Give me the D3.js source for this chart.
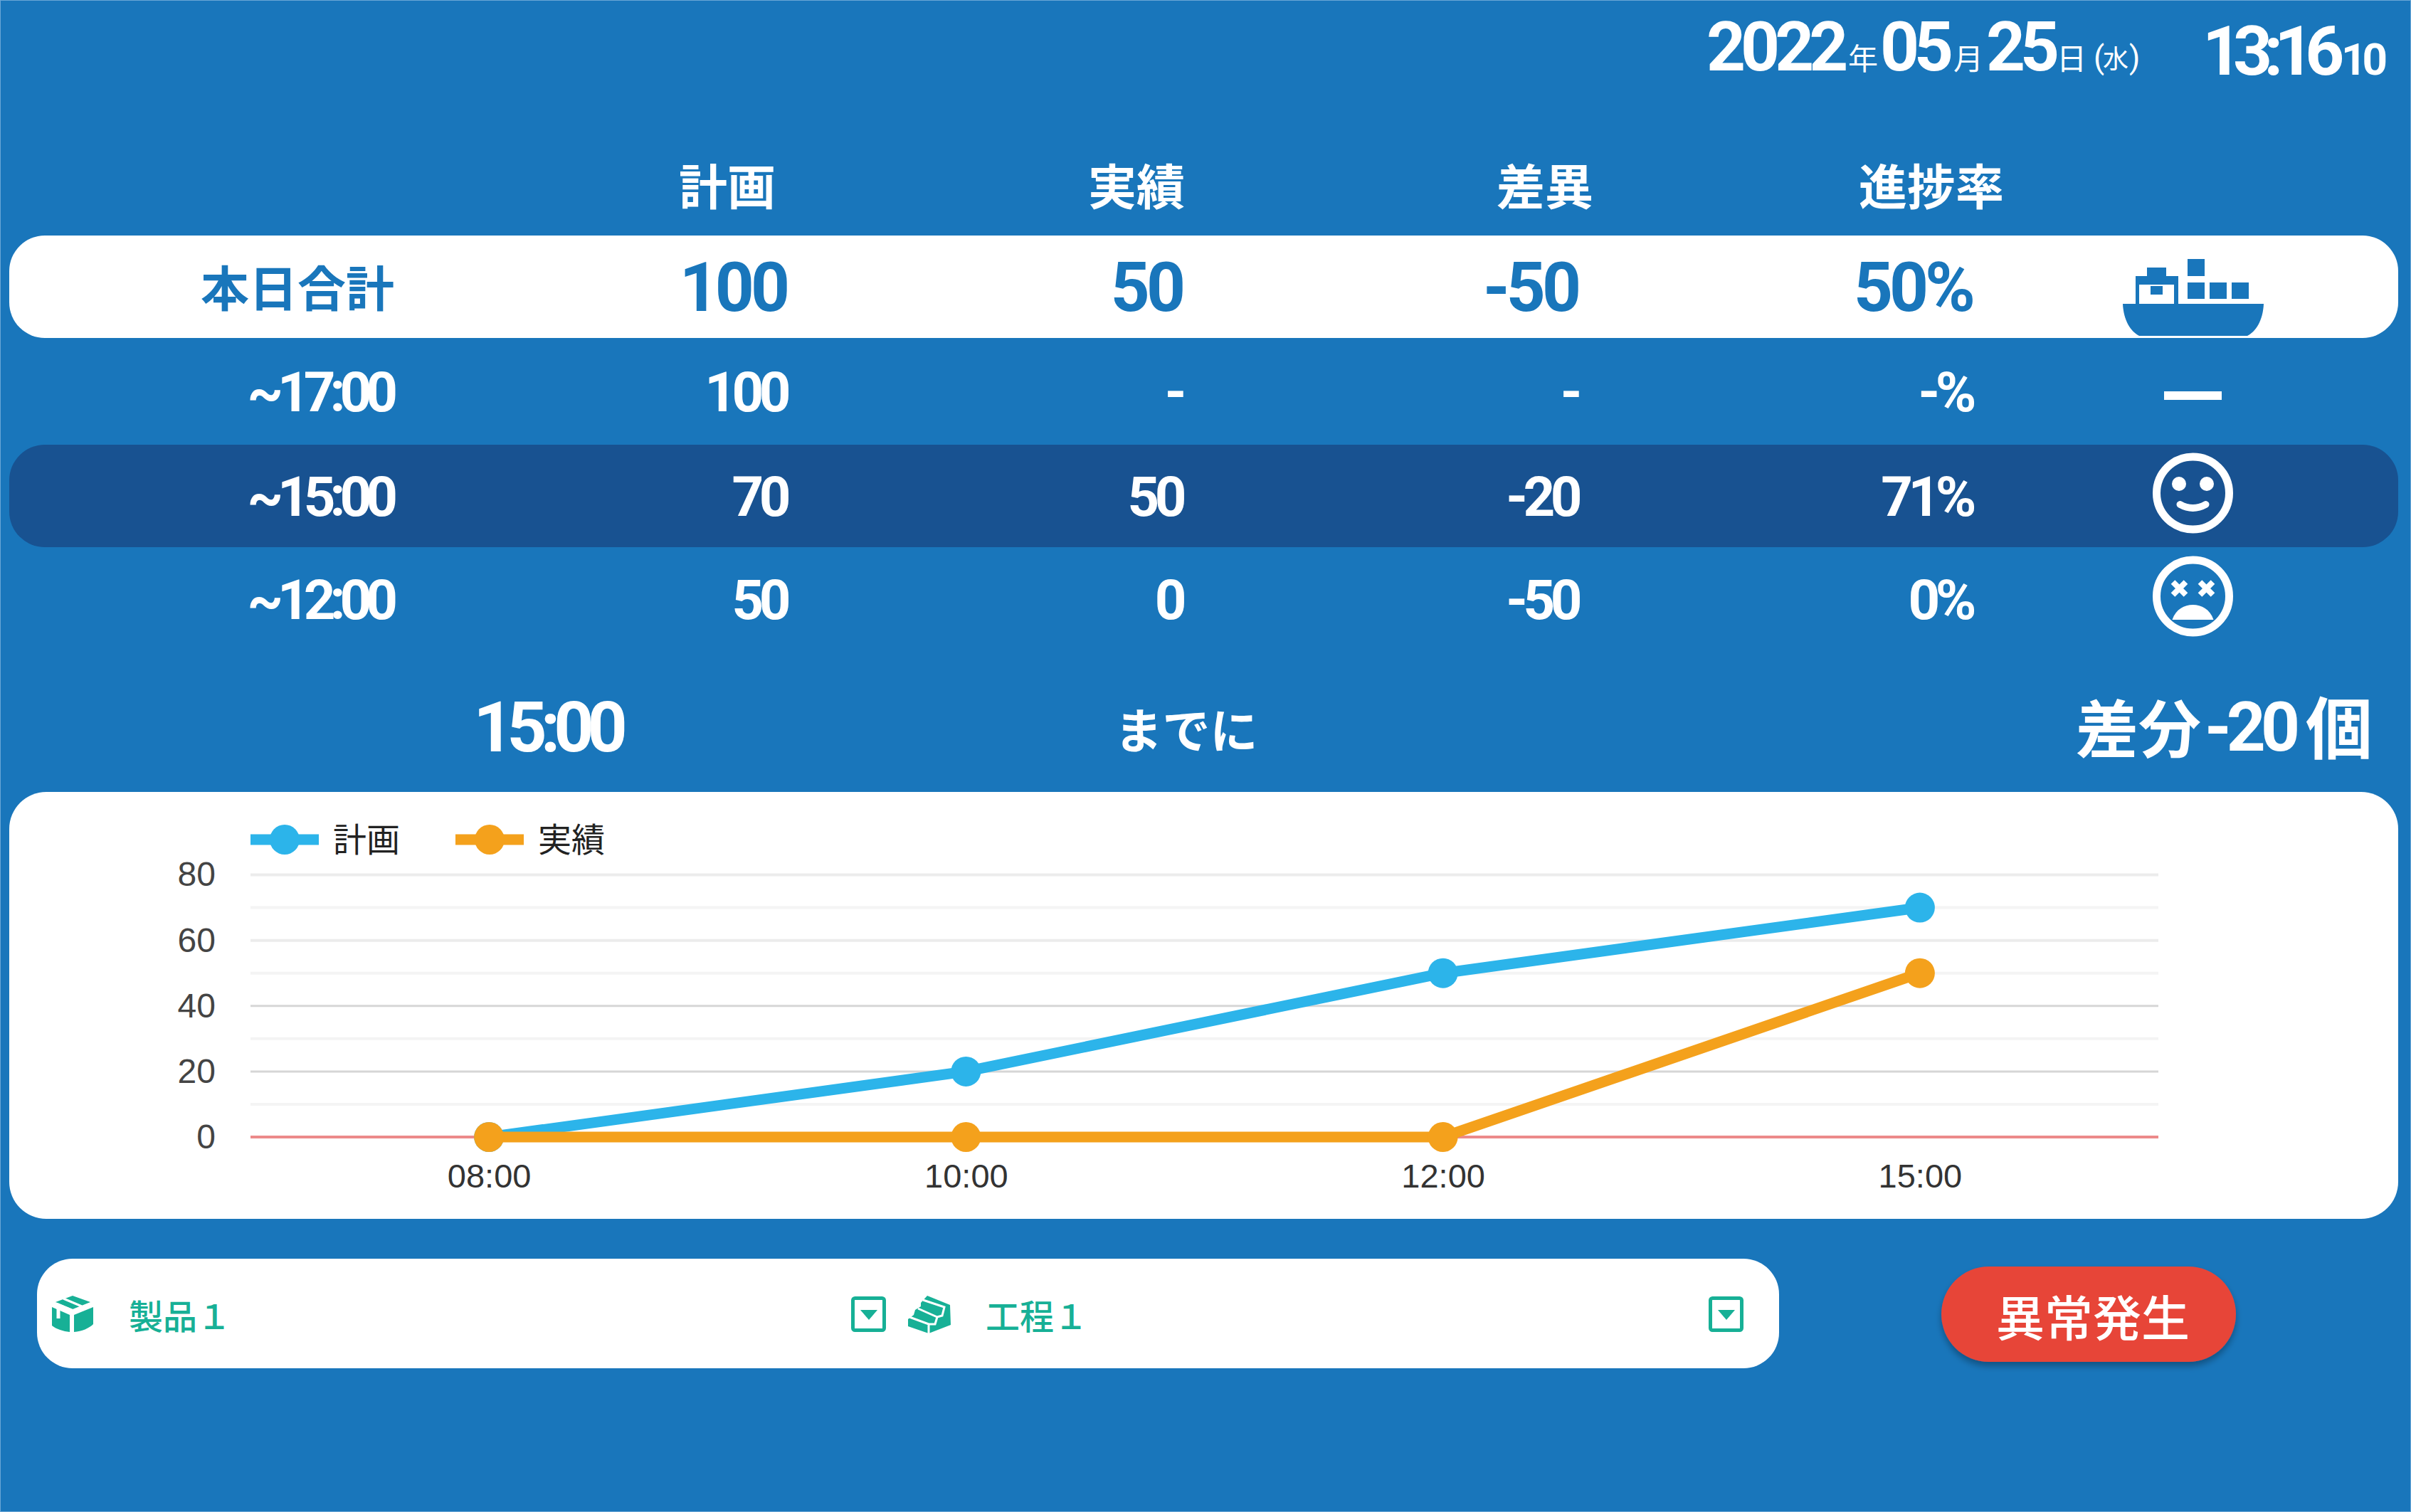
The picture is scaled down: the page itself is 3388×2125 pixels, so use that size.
<!DOCTYPE html>
<html lang="ja">
<head>
<meta charset="utf-8">
<title>進捗</title>
<script src="https://cdn.jsdelivr.net/npm/d3@7"></script>
<style>
    html, body { margin: 0; padding: 0; background: #1976bb; }
    svg { display: block; }
    text { font-family: Roboto, "Noto Sans CJK JP", sans-serif; }
    .jp { font-family: "Noto Sans CJK JP", Roboto, sans-serif; }
    .axis text { font-family: "Liberation Sans", Arial, sans-serif; }
</style>
</head>
<body>
<svg id="board" width="3388" height="2125"></svg>
<script>
// table
const headers = ["計画", "実績", "差異", "進捗率"];
const rowLabels = ["本日合計", "~17:00", "~15:00", "~12:00"];
const planCol = ["100", "100", "70", "50"];
const actualCol = ["50", "-", "50", "0"];
const diffCol = ["-50", "-", "-20", "-50"];
const rateCol = ["50%", "-%", "71%", "0%"];

// chart
const hours = ["08:00", "10:00", "12:00", "15:00"];
const planValues = [0, 20, 50, 70];
const actualValues = [0, 0, 0, 50];
const yTicks = [0, 20, 40, 60, 80];
const yMinorTicks = [10, 30, 50, 70];
const seriesNames = ["計画", "実績"];

const blue = "#1976bb", navy = "#185291", teal = "#17b096";
const planColor = "#2cb4ea", actualColor = "#f4a11c";

const svg = d3.select("#board");

const defs = svg.append("defs");
const shadow = defs.append("filter").attr("id", "btnShadow")
    .attr("x", "-10%").attr("y", "-20%").attr("width", "120%").attr("height", "150%");
shadow.append("feDropShadow").attr("dx", 0).attr("dy", 6).attr("stdDeviation", 5)
    .attr("flood-color", "#000").attr("flood-opacity", 0.3);

svg.append("rect").attr("x", 0.5).attr("y", 0.5).attr("width", 3387).attr("height", 2124)
    .attr("fill", blue).attr("stroke", "#6aa6d6").attr("stroke-width", 1);

function label(parent, str, x, y, size, opts = {}) {
    const t = parent.append("text")
        .attr("x", x).attr("y", y)
        .attr("font-size", size)
        .attr("font-weight", opts.weight || 700)
        .attr("fill", opts.fill || "#fff")
        .attr("text-anchor", opts.anchor || "start")
        .attr("dominant-baseline", opts.base || "alphabetic")
        .attr("letter-spacing", opts.ls || 0)
        .text(str);
    if (opts.jp) t.attr("class", "jp");
    return t;
}

// --- clock ---
const clock = svg.append("g");
label(clock, "2022", 2398, 99, 96, { ls: -7 });
label(clock, "年", 2597, 98, 42, { jp: true, weight: 400 });
label(clock, "05", 2642, 99, 96, { ls: -7 });
label(clock, "月", 2745, 98, 42, { jp: true, weight: 400 });
label(clock, "25", 2791, 99, 96, { ls: -7 });
label(clock, "日", 2890, 98, 42, { jp: true, weight: 400 });
label(clock, "(", 2942, 96, 44, { weight: 400 });
label(clock, "水", 2955, 96, 36, { jp: true, weight: 400 });
label(clock, ")", 2992, 96, 44, { weight: 400 });
label(clock, "13:16", 3095, 105, 96, { ls: -12 });
label(clock, "10", 3290, 105, 62, { ls: -6 });

// --- table ---
const colRight = [1105, 1661, 2217, 2771];
const headCenter = [1022, 1597, 2171, 2714];
const rowMid = [404, 551, 698, 843];
const rowBands = [{ top: 331, fill: "#fff" }, { top: 625, fill: navy }];

rowBands.forEach(b => {
    svg.append("rect")
        .attr("x", 13).attr("y", b.top)
        .attr("width", 3357).attr("height", 144)
        .attr("rx", 50).attr("ry", 50)
        .attr("fill", b.fill);
});

const table = svg.append("g");
headers.forEach((h, i) => {
    label(table, h, headCenter[i], 258, 68, { anchor: "middle", base: "central", jp: true });
});
const columns = [planCol, actualCol, diffCol, rateCol];
rowLabels.forEach((r, i) => {
    const fill = i === 0 ? blue : "#fff";
    const size = i === 0 ? 96 : 78;
    if (i === 0) {
        label(table, r, 554, rowMid[i] - 3, 68, { anchor: "end", base: "central", jp: true, fill });
    } else {
        label(table, r, 551, rowMid[i] + 27, 78, { anchor: "end", ls: -8, fill });
    }
    columns.forEach((col, j) => {
        label(table, col[i], colRight[j], rowMid[i] + (i === 0 ? 33 : 27), size,
            { anchor: "end", ls: i === 0 ? -5 : -6.5, fill });
    });
});

// --- status icons ---
const ship = svg.append("g").attr("fill", blue);
ship.append("path").attr("d", "M2983 427H3181C3180 450 3170 466 3158 472H3006C2994 466 2984 450 2983 427Z");
ship.append("path").attr("fill-rule", "evenodd")
    .attr("d", "M3017 376H3044V388H3061V427H3055V400H3006V427H3001V388H3017ZM3022 402V414H3039V402Z");
[[3074, 364, 24, 24], [3074, 397, 24, 23], [3105, 397, 24, 23], [3136, 397, 24, 23]].forEach(c => {
    ship.append("rect").attr("x", c[0]).attr("y", c[1]).attr("width", c[2]).attr("height", c[3]);
});

svg.append("rect").attr("x", 3041).attr("y", 550).attr("width", 81).attr("height", 12).attr("fill", "#fff");

const smile = svg.append("g").attr("transform", "translate(3081.5,693)");
smile.append("circle").attr("r", 51).attr("fill", "none").attr("stroke", "#fff").attr("stroke-width", 11);
smile.append("circle").attr("cx", -19.5).attr("cy", -13).attr("r", 10).attr("fill", "#fff");
smile.append("circle").attr("cx", 19.5).attr("cy", -13).attr("r", 10).attr("fill", "#fff");
smile.append("path").attr("d", "M-18 16Q0 26 18 16").attr("fill", "none")
    .attr("stroke", "#fff").attr("stroke-width", 10).attr("stroke-linecap", "round");

const sad = svg.append("g").attr("transform", "translate(3081.5,838)");
sad.append("circle").attr("r", 51).attr("fill", "none").attr("stroke", "#fff").attr("stroke-width", 11);
[-19, 19].forEach(dx => {
    sad.append("path").attr("d", `M${dx - 9} -20L${dx + 9} -2M${dx + 9} -20L${dx - 9} -2`)
        .attr("stroke", "#fff").attr("stroke-width", 8).attr("fill", "none");
});
sad.append("path").attr("d", "M-29 33C-24 18 -12 12 0 12C12 12 24 18 29 33Z").attr("fill", "#fff");

// --- summary line ---
const summary = svg.append("g");
label(summary, "15:00", 769, 1056, 98, { anchor: "middle", ls: -9 });
label(summary, "までに", 1667, 1022, 67, { anchor: "middle", base: "central", jp: true });
label(summary, "差分", 2917, 1018, 88, { base: "central", jp: true });
label(summary, "-20", 3098, 1055, 96, { ls: -7 });
label(summary, "個", 3334, 1018, 94, { anchor: "end", base: "central", jp: true });

// --- chart card ---
svg.append("rect").attr("x", 13).attr("y", 1113).attr("width", 3357).attr("height", 600)
    .attr("rx", 52).attr("ry", 52).attr("fill", "#fff");

const plotLeft = 352, plotRight = 3033, plotTop = 1229.5, plotBottom = 1598;

const x = d3.scalePoint().domain(hours).range([plotLeft, plotRight]).padding(0.5);
const y = d3.scaleLinear().domain([0, 80]).range([plotBottom, plotTop]);

const grid = svg.append("g");
grid.selectAll("line.minor").data(yMinorTicks).join("line")
    .attr("class", "minor")
    .attr("x1", plotLeft).attr("x2", plotRight)
    .attr("y1", d => y(d)).attr("y2", d => y(d))
    .attr("stroke", "#f4f4f4").attr("stroke-width", 4);
grid.selectAll("line.major").data(yTicks.filter(d => d !== 0)).join("line")
    .attr("class", "major")
    .attr("x1", plotLeft).attr("x2", plotRight)
    .attr("y1", d => y(d)).attr("y2", d => y(d))
    .attr("stroke", d => d >= 60 ? "#ececec" : "#d6d6d6")
    .attr("stroke-width", d => d >= 60 ? 4 : 3);
grid.append("line")
    .attr("x1", plotLeft).attr("x2", plotRight)
    .attr("y1", y(0)).attr("y2", y(0))
    .attr("stroke", "#ec8a8a").attr("stroke-width", 4);

svg.append("g").attr("class", "axis")
    .attr("transform", `translate(${plotLeft - 49},0)`)
    .call(d3.axisLeft(y).tickValues(yTicks).tickSize(0).tickPadding(0))
    .call(g => g.select(".domain").remove())
    .call(g => g.selectAll("text").attr("font-size", 48).attr("font-weight", 400).attr("fill", "#444"));

svg.append("g").attr("class", "axis")
    .attr("transform", `translate(0,${plotBottom + 36})`)
    .call(d3.axisBottom(x).tickSize(0).tickPadding(0))
    .call(g => g.select(".domain").remove())
    .call(g => g.selectAll("text").attr("font-size", 47).attr("font-weight", 400).attr("fill", "#333").attr("dy", "0.75em"));

const lineGen = d3.line().x((d, i) => x(hours[i])).y(d => y(d));

[[planValues, planColor], [actualValues, actualColor]].forEach(([vals, color]) => {
    const s = svg.append("g");
    s.append("path").datum(vals).attr("fill", "none")
        .attr("stroke", color).attr("stroke-width", 15).attr("d", lineGen);
    s.selectAll("circle").data(vals).join("circle")
        .attr("cx", (d, i) => x(hours[i])).attr("cy", d => y(d))
        .attr("r", 21).attr("fill", color);
});

// legend
const legendX = [352, 640];
[planColor, actualColor].forEach((color, i) => {
    const g = svg.append("g").attr("transform", `translate(${legendX[i]},1180)`);
    g.append("rect").attr("x", 0).attr("y", -7.5).attr("width", 96).attr("height", 15).attr("fill", color);
    g.append("circle").attr("cx", 48).attr("cy", 0).attr("r", 21).attr("fill", color);
    label(g, seriesNames[i], 116, -4, 47, { base: "central", jp: true, weight: 400, fill: "#222" });
});

// --- selector pill ---
svg.append("rect").attr("x", 52).attr("y", 1769).attr("width", 2448).attr("height", 154)
    .attr("rx", 50).attr("ry", 50).attr("fill", "#fff");

label(svg, "製品１", 181, 1847, 48, { base: "central", jp: true, fill: teal, weight: 500 });
label(svg, "工程１", 1385, 1847, 48, { base: "central", jp: true, fill: teal, weight: 500 });

function boxIcon(px, py) {
    const g = svg.append("g").attr("transform", `translate(${px},${py})`).attr("fill", teal);
    g.append("path").attr("d", "M0 16L25 27V51C16 50 6 47 0 42Z");
    g.append("path").attr("d", "M31 27L58 16V40C52 46 42 50 31 51Z");
    g.append("path").attr("d", "M5 9L29 0L54 9L29 19Z");
    g.append("path").attr("d", "M6 11L30 21M16 4L42 15").attr("stroke", "#fff").attr("stroke-width", 3).attr("fill", "none");
    g.append("path").attr("d", "M9 16V32").attr("stroke", "#fff").attr("stroke-width", 5);
}
function stackIcon(px, py) {
    const g = svg.append("g").attr("transform", `translate(${px},${py})`);
    g.append("path").attr("fill", teal)
        .attr("d", "M17 10L26 0L58 13L59 41L28 53L-1 43V33L7 27L9 20L17 15Z");
    g.append("path").attr("fill", "none").attr("stroke", "#fff").attr("stroke-width", 3)
        .attr("d", "M20 6L50 16L47 28L40 30L13 18M40 30L37 40H28L1 30M28 40V53");
}
function dropIcon(px, py) {
    const g = svg.append("g").attr("transform", `translate(${px},${py})`);
    g.append("rect").attr("x", 2.5).attr("y", 2.5).attr("width", 44).attr("height", 45).attr("rx", 3)
        .attr("fill", "none").attr("stroke", teal).attr("stroke-width", 5);
    g.append("path").attr("d", "M13 19H37L25 33Z").attr("fill", teal);
}
boxIcon(73, 1821);
stackIcon(1277, 1821);
dropIcon(1196, 1822);
dropIcon(2401, 1822);

// --- alarm button ---
svg.append("rect").attr("x", 2728).attr("y", 1780).attr("width", 414).attr("height", 134)
    .attr("rx", 67).attr("ry", 67).attr("fill", "#e74539").attr("filter", "url(#btnShadow)");
label(svg, "異常発生", 2941, 1848, 68, { anchor: "middle", base: "central", jp: true, weight: 500 });
</script>
</body>
</html>
